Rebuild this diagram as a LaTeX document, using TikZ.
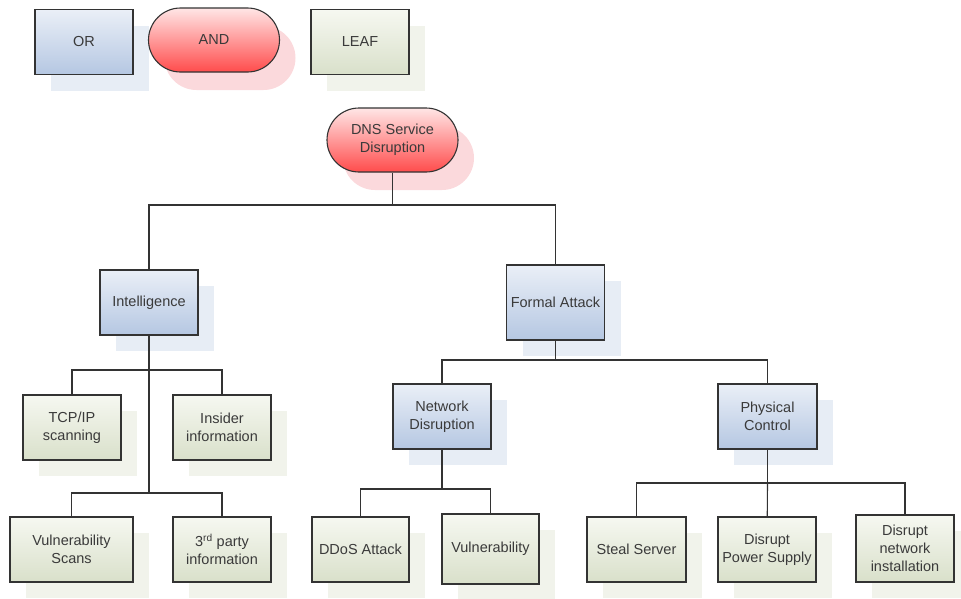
\documentclass[tikz,border=0pt]{standalone}
\usepackage{fontspec}
\setmainfont{Liberation Sans}
\definecolor{orTop}{HTML}{EAEFF7}
\definecolor{orBot}{HTML}{B5C7E2}
\definecolor{orSh}{HTML}{E7EDF5}
\definecolor{andTop}{HTML}{FFE6E6}
\definecolor{andBot}{HTML}{FF4C4C}
\definecolor{andSh}{HTML}{FBD9DC}
\definecolor{leafTop}{HTML}{F6F8F1}
\definecolor{leafBot}{HTML}{D9E0CA}
\definecolor{leafSh}{HTML}{F1F3EB}
\definecolor{ink}{HTML}{3A3A3A}
\definecolor{edge}{HTML}{333333}
\begin{document}
\begin{tikzpicture}[x=1pt,y=-1pt,
  base/.style={draw=edge,line width=1.1pt,inner sep=0pt,align=center,text=ink,
    font=\fontsize{14.5}{18}\selectfont},
  orbox/.style={base,minimum width=98pt,minimum height=65pt,
    preaction={fill=orSh,transform canvas={shift={(16pt,-16pt)}}},
    top color=orTop,bottom color=orBot},
  leafbox/.style={base,minimum width=98pt,minimum height=65pt,
    preaction={fill=leafSh,transform canvas={shift={(16pt,-16pt)}}},
    top color=leafTop,bottom color=leafBot},
  andbox/.style={base,minimum width=131pt,minimum height=64pt,rounded corners=32pt,
    preaction={fill=andSh,transform canvas={shift={(16pt,-18pt)}}},
    top color=andTop,bottom color=andBot},
  link/.style={draw=edge,line width=1.1pt}]
\useasboundingbox (0,0) rectangle (961,598);
% legend
\node[orbox] (lor) at (84,42) {OR};
\node[andbox] (land) at (214,40) {AND};
\node[leafbox] (lleaf) at (360,42) {LEAF};
% tree
\node[andbox] (root) at (392.5,140) {DNS Service\\Disruption};
\node[orbox] (intel) at (149,302.5) {Intelligence};
\node[orbox,minimum height=75pt] (formal) at (555.5,302.5) {Formal Attack};
\node[leafbox] (tcp) at (72,427.5) {TCP/IP\\scanning};
\node[leafbox] (insider) at (222,427.5) {Insider\\information};
\node[leafbox,minimum width=123pt] (vscan) at (71.5,549.5) {Vulnerability\\Scans};
\node[leafbox] (third) at (222,549.5) {3\textsuperscript{rd} party\\information};
\node[orbox] (netd) at (442,416.5) {Network\\Disruption};
\node[orbox,minimum width=99pt] (phys) at (767.5,416.5) {Physical\\Control};
\node[leafbox,minimum width=97pt] (ddos) at (360.5,549.5) {DDoS Attack};
\node[leafbox,minimum width=97pt,minimum height=70pt] (vuln) at (490.5,549) {Vulnerability};
\node[leafbox,minimum width=99pt] (steal) at (636.5,549.5) {Steal Server};
\node[leafbox] (power) at (767,549.5) {Disrupt\\Power Supply};
\node[leafbox,minimum height=67pt] (inst) at (905,548.5) {Disrupt\\network\\installation};
% junctions
\coordinate (j1) at (392.5,205);
\coordinate (j2) at (149,370);
\coordinate (j3) at (149,493);
\coordinate (j4) at (555.5,360);
\coordinate (j5) at (442,489);
\coordinate (j6) at (767.5,483);
% connectors
\draw[link] (root) -- (j1);
\draw[link] (j1) -| (intel);
\draw[link] (j1) -| (formal);
\draw[link] (intel) -- (j3);
\draw[link] (tcp) |- (j2) -| (insider);
\draw[link] (vscan) |- (j3) -| (third);
\draw[link] (formal) -- (j4);
\draw[link] (j4) -| (netd);
\draw[link] (j4) -| (phys);
\draw[link] (netd) -- (j5);
\draw[link] (j5) -| (ddos);
\draw[link] (j5) -| (vuln);
\draw[link] (phys) -- (j6);
\draw[link] (j6) -| (steal);
\draw[link] (j6) -- (power);
\draw[link] (j6) -| (inst);
\end{tikzpicture}
\end{document}
